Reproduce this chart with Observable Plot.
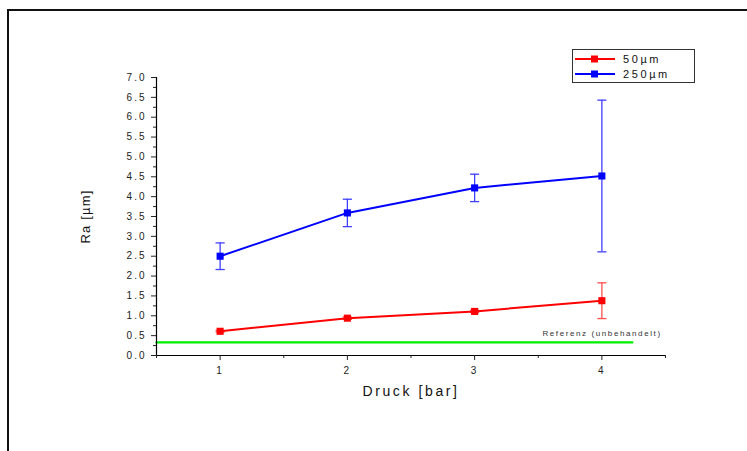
<!DOCTYPE html>
<html>
<head>
<meta charset="utf-8">
<script src="https://cdn.jsdelivr.net/npm/d3@7"></script>
<script src="https://cdn.jsdelivr.net/npm/@observablehq/plot@0.6"></script>
<style>
  html, body { margin: 0; padding: 0; background: #fff; overflow: hidden; }
  #wrap { position: relative; width: 747px; height: 451px; }
  #frame { position: absolute; left: 7px; top: 9px; width: 800px; height: 500px; border: 2px solid #111; pointer-events: none; }
  #legend { position: absolute; left: 572px; top: 49px; width: 123px; height: 34px; border: 1px solid #333; box-sizing: border-box; background: #fff;
    font-family: "Liberation Sans", Arial, sans-serif; font-size: 11px; letter-spacing: 2.6px; color: #111; }
  #legend .row { position: absolute; left: 2px; height: 14px; display: flex; align-items: center; }
  #legend svg { display: block; margin-right: 8px; }
  svg.plot text { font-family: "Liberation Sans", Arial, sans-serif; }
  g[aria-label="y-axis tick label"] text, g[aria-label="x-axis tick label"] text { letter-spacing: 2px; }
  g[aria-label="y-axis label"] text { letter-spacing: 1.2px; }
  g[aria-label="x-axis label"] text { letter-spacing: 2.6px; }
  g.reflabel text { letter-spacing: 1.6px; }
</style>
</head>
<body>
<div id="wrap">
  <div id="chart"></div>
  <div id="frame"></div>
  <div id="legend"></div>
</div>
<script>
// ---- data ----
const pressure = [1, 2, 3, 4];
const series = ["50µm", "250µm"];
const colors = ["#ff0000", "#0000ff"];
const errColors = ["#ff5050", "#4040ff"];
const ra50 = [0.61, 0.94, 1.11, 1.38];
const err50 = [0.02, 0.03, 0.03, 0.45];
const ra250 = [2.50, 3.59, 4.22, 4.52];
const err250 = [0.335, 0.345, 0.345, 1.91];
const refValue = 0.33;
const refRange = [0.5, 4.24];
const refLabel = "Referenz (unbehandelt)";
const yMajor = d3.range(0, 7.01, 0.5);
const yMinor = d3.range(0.25, 7, 0.5);
const xMajor = [1, 2, 3, 4];
const xMinor = [0.5, 1.5, 2.5, 3.5, 4.5];

const rows = [];
[ra50, ra250].forEach((vals, si) => {
  const errs = si === 0 ? err50 : err250;
  pressure.forEach((p, i) => rows.push({series: series[si], x: p, y: vals[i], e: errs[i], si}));
});
const refRows = refRange.map(x => ({x, y: refValue}));
const cap = 0.036;

const plot = Plot.plot({
  width: 747,
  height: 451,
  marginLeft: 156,
  marginRight: 82,
  marginTop: 77,
  marginBottom: 96,
  style: {background: "transparent", fontSize: "10px", color: "#222"},
  x: {domain: [0.5, 4.5]},
  y: {domain: [0, 7]},
  marks: [
    // reference line
    Plot.line(refRows, {x: "x", y: "y", stroke: "#00ee00", strokeWidth: 2.2}),
    Plot.text([refValue], {x: 4.47, y: d => d, text: () => refLabel, textAnchor: "end", dy: -9, fontSize: 8, fill: "#333", className: "reflabel"}),
    // error bars
    Plot.ruleX(rows, {x: "x", y1: d => d.y - d.e, y2: d => d.y + d.e, stroke: d => errColors[d.si], strokeWidth: 1.3}),
    Plot.link(rows, {x1: d => d.x - cap, x2: d => d.x + cap, y1: d => d.y + d.e, y2: d => d.y + d.e, stroke: d => errColors[d.si], strokeWidth: 1.3}),
    Plot.link(rows, {x1: d => d.x - cap, x2: d => d.x + cap, y1: d => d.y - d.e, y2: d => d.y - d.e, stroke: d => errColors[d.si], strokeWidth: 1.3}),
    // lines
    Plot.line(rows, {x: "x", y: "y", z: "series", stroke: d => colors[d.si], strokeWidth: 2}),
    Plot.dot(rows, {x: "x", y: "y", symbol: "square", r: 4, fill: d => colors[d.si], stroke: "none"}),
    // axes
    Plot.ruleX([0.5], {stroke: "#000", strokeWidth: 1.2}),
    Plot.ruleY([0], {stroke: "#000", strokeWidth: 1.2}),
    Plot.axisY(yMajor, {tickSize: 5, tickFormat: d => d.toFixed(1), tickPadding: 5, fontSize: 10, fill: "#222",
      label: "Ra [µm]", labelAnchor: "center", labelArrow: "none", labelOffset: 76}),
    Plot.axisY(yMinor, {tickSize: 3, tickFormat: () => "", label: null}),
    Plot.axisX(xMajor, {tickSize: 5, tickFormat: d => String(d), tickPadding: 6, fontSize: 10, fill: "#222",
      label: "Druck [bar]", labelAnchor: "center", labelArrow: "none", labelOffset: 40}),
    Plot.axisX(xMinor, {tickSize: 3, tickFormat: () => "", label: null})
  ]
});
plot.classList.add("plot");
d3.select(plot).selectAll('g[aria-label="y-axis label"] text').style("font-size", "13px").attr("fill", "#111");
d3.select(plot).selectAll('g[aria-label="x-axis label"] text').style("font-size", "14px").attr("fill", "#111");
document.getElementById("chart").appendChild(plot);

// legend
const legend = document.getElementById("legend");
series.forEach((s, i) => {
  const row = document.createElement("div");
  row.className = "row";
  row.style.top = (2 + i * 15) + "px";
  row.innerHTML = `<svg width="40" height="10"><line x1="0" x2="40" y1="5" y2="5" stroke="${colors[i]}" stroke-width="2"/><rect x="16" y="1.5" width="7" height="7" fill="${colors[i]}"/></svg><span>${s}</span>`;
  legend.appendChild(row);
});
</script>
</body>
</html>
